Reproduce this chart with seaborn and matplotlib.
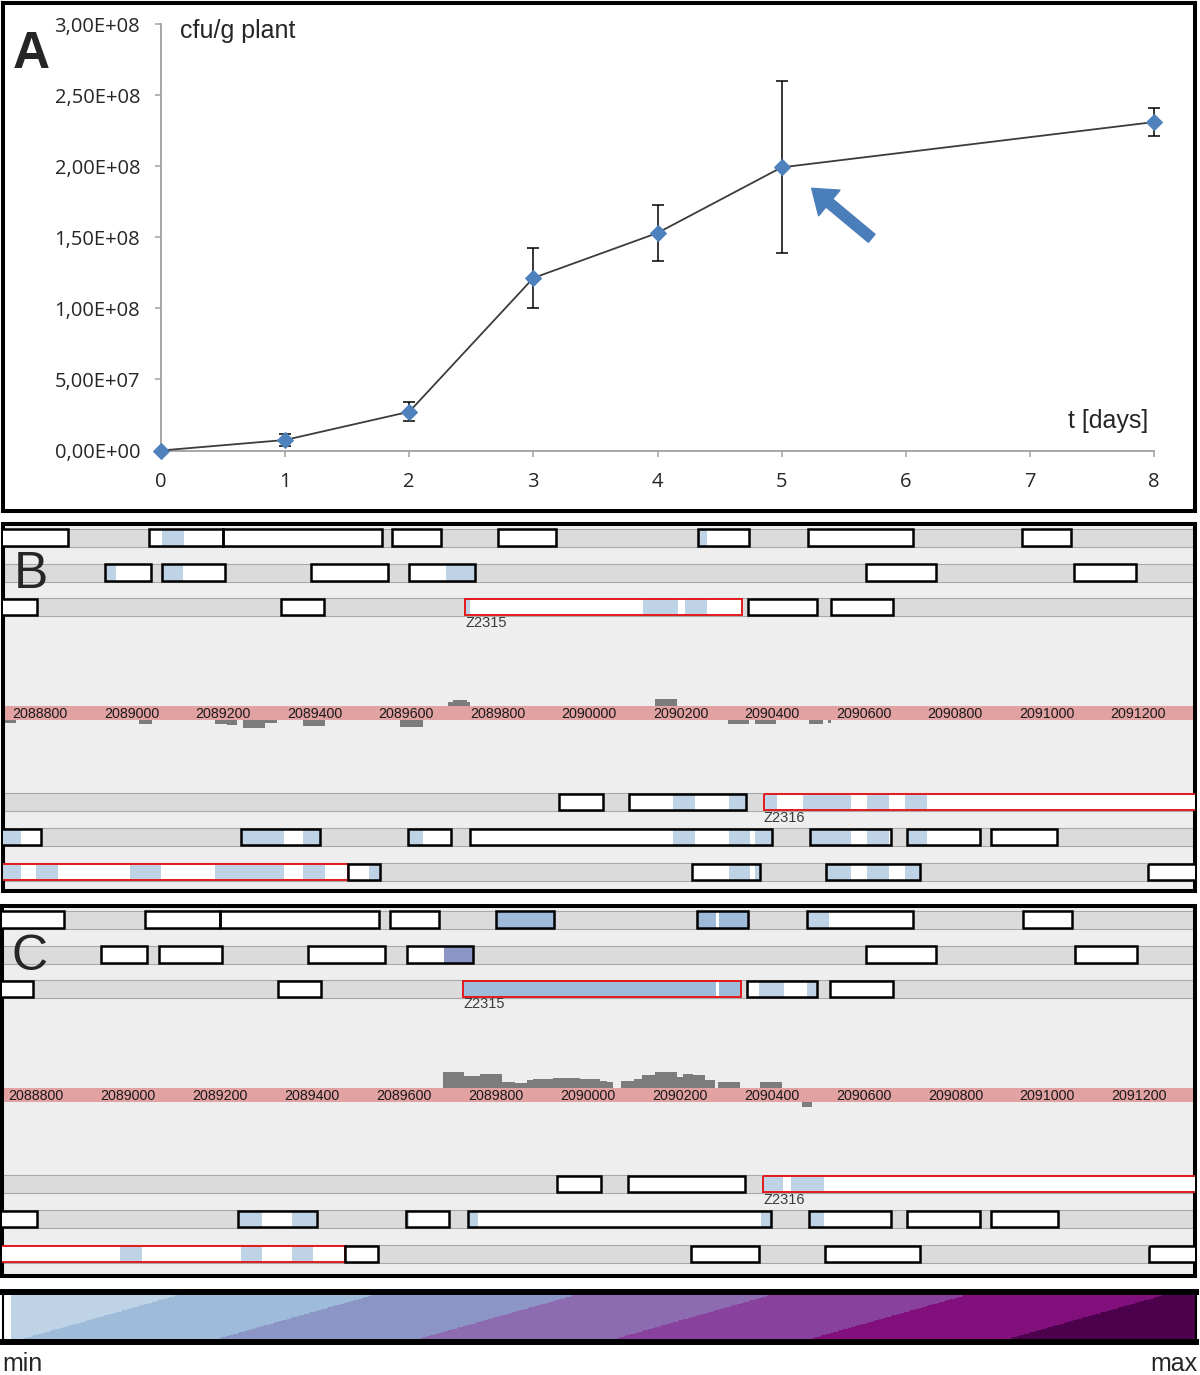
import numpy as np
import matplotlib
matplotlib.use("Agg")
import matplotlib.pyplot as plt
import seaborn as sns
from matplotlib.colors import ListedColormap, BoundaryNorm

# ---------------- Panel A data ----------------
days = [0, 1, 2, 3, 4, 5, 8]
cfu_per_g = [0.0, 7.4e6, 2.73e7, 1.215e8, 1.532e8, 1.994e8, 2.313e8]
cfu_sd = [0.0, 4.5e6, 6.8e6, 2.08e7, 1.97e7, 6.05e7, 1.0e7]
day_ticks = [0, 1, 2, 3, 4, 5, 6, 7, 8]
cfu_ticks = [0, 5e7, 1e8, 1.5e8, 2e8, 2.5e8, 3e8]

# ---------------- Genome panels data ----------------
coord_ticks = list(range(2088800, 2091201, 200))

gene_row = [0] * 8 + [1] * 6 + [2] * 5 + [3] * 3 + [4] * 7 + [5] * 5
gene_start = [2088700, 2089038, 2089200, 2089569, 2089801, 2090238, 2090478, 2090946,
              2088942, 2089067, 2089392, 2089606, 2090605, 2091059,
              2088700, 2089327, 2089729, 2090347, 2090528,
              2089934, 2090087, 2090382,
              2088700, 2089239, 2089604, 2089740, 2090482, 2090694, 2090878,
              2088700, 2089473, 2090225, 2090517, 2091221]
gene_end = [2088861, 2089200, 2089547, 2089676, 2089927, 2090349, 2090707, 2091053,
            2089042, 2089204, 2089560, 2089750, 2090758, 2091195,
            2088793, 2089421, 2090334, 2090498, 2090664,
            2090030, 2090343, 2091400,
            2088802, 2089412, 2089698, 2090399, 2090659, 2090854, 2091022,
            2089473, 2089543, 2090373, 2090723, 2091400]
gene_focus = [False] * 34
for _i in (16, 21, 29):
    gene_focus[_i] = True
gene_label = [""] * 34
gene_label[16] = "Z2315"
gene_label[21] = "Z2316"

# expression (mapped reads) per gene region, panel B
exprB_row = [0, 0, 1, 1, 1, 2, 2, 2, 3, 3, 3, 3, 3, 3,
             4, 4, 4, 4, 4, 4, 4, 4, 4, 4,
             5, 5, 5, 5, 5, 5, 5, 5, 5, 5, 5]
exprB_start = [2089067, 2090238, 2088944, 2089067, 2089687, 2089729, 2090118, 2090209,
               2090183, 2090305, 2090384, 2090467, 2090607, 2090690,
               2088719, 2089239, 2089375, 2089604, 2090183, 2090305, 2090362, 2090482, 2090607, 2090697,
               2088719, 2088791, 2088997, 2089182, 2089375, 2089519, 2090305, 2090362, 2090517, 2090607, 2090690]
exprB_end = [2089115, 2090257, 2088966, 2089112, 2089750, 2089740, 2090194, 2090257,
             2090231, 2090343, 2090410, 2090572, 2090655, 2090738,
             2088758, 2089333, 2089412, 2089637, 2090231, 2090351, 2090399, 2090572, 2090655, 2090738,
             2088758, 2088839, 2089064, 2089333, 2089423, 2089543, 2090351, 2090373, 2090572, 2090655, 2090723]
exprB_level = [1] * 35

# panel C
exprC_row = [0, 0, 0, 0, 1, 2, 2, 2, 2, 3, 3, 4, 4, 4, 4, 4, 4, 5, 5, 5]
exprC_start = [2089801, 2090238, 2090285, 2090480, 2089688, 2089729, 2090286, 2090373, 2090477,
               2090382, 2090442, 2089240, 2089357, 2089603, 2089742, 2090377, 2090482,
               2088983, 2089246, 2089357]
exprC_end = [2089927, 2090280, 2090349, 2090525, 2089753, 2090279, 2090334, 2090427, 2090498,
             2090425, 2090514, 2089292, 2089409, 2089612, 2089762, 2090399, 2090514,
             2089031, 2089292, 2089403]
exprC_level = [2, 2, 2, 1, 3, 2, 2, 1, 1, 1, 1, 1, 1, 1, 1, 1, 1, 1, 1, 1]

# strand-specific coverage (positive = above the axis, negative = below)
covB_start = [2089691, 2089702, 2089733, 2090144,
              2088713, 2089016, 2089182, 2089209, 2089244, 2089292, 2089375, 2089587,
              2090303, 2090362, 2090480, 2090522]
covB_end = [2089702, 2089733, 2089740, 2090192,
            2088748, 2089045, 2089209, 2089230, 2089292, 2089318, 2089423, 2089637,
            2090349, 2090408, 2090511, 2090528]
covB_val = [4, 6, 4, 7, -2.7, -3.3, -3.3, -5, -7.3, -2.7, -5.7, -6.7, -3.3, -3.3, -3.3, -3]

covC_start = [2089685, 2089730, 2089766, 2089814, 2089842, 2089868, 2089881, 2089925, 2089984,
              2090027, 2090043, 2090073, 2090101, 2090118, 2090147, 2090194, 2090207, 2090229,
              2090255, 2090284, 2090375, 2090466]
covC_end = [2089730, 2089766, 2089814, 2089842, 2089868, 2089881, 2089925, 2089984, 2090027,
            2090043, 2090055, 2090101, 2090118, 2090147, 2090194, 2090207, 2090229, 2090255,
            2090277, 2090332, 2090423, 2090488]
covC_val = [16, 11.7, 13.3, 5.7, 4.3, 7.7, 9, 10, 9, 6.7, 5.7, 6.7, 9, 12.3, 15.7, 11, 13.3,
            12.3, 7.7, 5.7, 5.7, -5]

scale_colors = ["#bfd3e6", "#9ebcda", "#8c96c6", "#8c6bb1", "#88419d", "#810f7c", "#4d004b"]
scale_bounds = [-400, 15, 210, 412, 608, 804, 1002, 1500]

# ---------------- style ----------------
sns.set_theme(style="white")
plt.rcParams["font.family"] = ["Liberation Sans", "DejaVu Sans"]

W, H = 1200, 1375
fig = plt.figure(figsize=(W / 100, H / 100), dpi=100)
fig.patch.set_facecolor("white")


def ax_px(l, t, r, b, **kw):
    return fig.add_axes([l / W, 1 - b / H, (r - l) / W, (b - t) / H], **kw)


def ftext(x, y, s, **kw):
    fig.text(x / W, 1 - y / H, s, **kw)


def frame(ax, lw=2.9):
    ax.set_xticks([])
    ax.set_yticks([])
    for sp in ax.spines.values():
        sp.set_visible(True)
        sp.set_color("black")
        sp.set_linewidth(lw)


# ---------------- Panel A ----------------
frA = ax_px(3, 2.5, 1195, 511)
frA.set_facecolor("white")
frame(frA)

axA = ax_px(161, 24.5, 1154, 450.5)
axA.set_facecolor("none")
mask = np.array(cfu_sd) > 0
axA.errorbar(np.array(days)[mask], np.array(cfu_per_g)[mask], yerr=np.array(cfu_sd)[mask],
             fmt="none", ecolor="black", elinewidth=1.1, capsize=4.3, capthick=1.1, zorder=2,
             clip_on=False)
sns.lineplot(x=days, y=cfu_per_g, ax=axA, color="#3c3c3c", lw=1.3, marker="D", markersize=8.5,
             markerfacecolor="#4F81BD", markeredgecolor="#4F81BD", errorbar=None, zorder=3,
             clip_on=False)
axA.set_xlim(0, 8)
axA.set_ylim(0, 3e8)
axA.set_xticks(day_ticks)
axA.set_xticklabels([str(d) for d in day_ticks])
axA.set_yticks(cfu_ticks)
axA.set_yticklabels([("%.2E" % v).replace(".", ",") for v in cfu_ticks])
for s in ("top", "right"):
    axA.spines[s].set_visible(False)
for s in ("left", "bottom"):
    axA.spines[s].set_color("#A0A0A0")
    axA.spines[s].set_linewidth(1.3)
axA.tick_params(axis="y", direction="out", length=4.3, width=1.1, color="#A0A0A0", pad=10.8,
                labelsize=14.5, labelcolor="#262626", left=True)
axA.tick_params(axis="x", direction="out", length=4.3, width=1.1, color="#A0A0A0", pad=11,
                labelsize=14.5, labelcolor="#262626", bottom=True)
for lab in axA.get_xticklabels() + axA.get_yticklabels():
    lab.set_fontfamily(["Open Sans", "DejaVu Sans"])
axA.set_xlabel("")
axA.set_ylabel("")

axA.annotate("", xy=(811.7, H - 188.3), xycoords="figure pixels",
             xytext=(871.7, H - 238.3), textcoords="figure pixels",
             arrowprops=dict(arrowstyle="simple,head_length=1.1,head_width=1.6,tail_width=0.5",
                             color="#4A7EBB", mutation_scale=15, shrinkA=0, shrinkB=0))

ftext(13, 68, "A", fontsize=37, fontweight="bold", va="baseline", ha="left")
ftext(180, 38, "cfu/g plant", fontsize=18, va="baseline", ha="left")
ftext(1068, 428, "t [days]", fontsize=18, va="baseline", ha="left")

# ---------------- Panels B & C ----------------
row_y = [13.5, 48.5, 83, 278, 313, 348]
axis_y = 189
band_h = 14.5


def genome_panel(ax, xlim, ybottom, er, es, ee, el, cs, ce, cv):
    ax.set_facecolor("#EEEEEE")
    ax.set_xlim(*xlim)
    ax.set_ylim(ybottom, 0)
    frame(ax)
    for y in row_y:
        ax.axhspan(y - 9, y + 9, color="#DBDBDB", lw=0, zorder=1)
        ax.axhline(y - 9, color="#A8A8A8", lw=0.8, zorder=1.1)
        ax.axhline(y + 9, color="#A8A8A8", lw=0.8, zorder=1.1)
    ax.axhspan(axis_y - band_h / 2, axis_y + band_h / 2, color="#E3A2A2", lw=0, zorder=1)
    cs, ce, cv = np.array(cs), np.array(ce), np.array(cv, dtype=float)
    bottoms = np.where(cv > 0, axis_y - band_h / 2, axis_y + band_h / 2)
    ax.bar(cs, -cv, width=ce - cs, bottom=bottoms, align="edge", color="#7c7c7c", lw=0, zorder=2)
    for v in coord_ticks:
        ax.text(v, axis_y + 0.5, str(v), ha="center", va="center", fontsize=10.3,
                color="#1a1a1a", zorder=6)
    gs, ge = np.array(gene_start), np.array(gene_end)
    gy = np.array([row_y[r] for r in gene_row])
    ax.bar(gs, 16.5, width=ge - gs, bottom=gy - 8.25, align="edge", color="white", lw=0, zorder=3)
    es, ee = np.array(es), np.array(ee)
    ey = np.array([row_y[r] for r in er])
    ax.bar(es, 16.5, width=ee - es, bottom=ey - 8.25, align="edge",
           color=[scale_colors[l - 1] for l in el], lw=0, zorder=4)
    ecol = ["#E31A1C" if f else "black" for f in gene_focus]
    elw = [1.4 if f else 1.8 for f in gene_focus]
    ax.bar(gs, 16.5, width=ge - gs, bottom=gy - 8.25, align="edge", facecolor="none",
           edgecolor=ecol, linewidth=elw, zorder=5)
    for s, y, lab in zip(gene_start, gy, gene_label):
        if lab:
            ax.text(s, y + 15.5, lab, ha="left", va="center", fontsize=10.5, color="#3a3a3a", zorder=6)


axB = ax_px(2.5, 524, 1195, 891)
genome_panel(axB, (2088718, 2091324), 367, exprB_row, exprB_start, exprB_end, exprB_level,
             covB_start, covB_end, covB_val)
axC = ax_px(1.5, 906, 1195, 1275.5)
genome_panel(axC, (2088725, 2091321), 369.5, exprC_row, exprC_start, exprC_end, exprC_level,
             covC_start, covC_end, covC_val)

ftext(14, 588, "B", fontsize=37, va="baseline", ha="left")
ftext(12, 970, "C", fontsize=36, va="baseline", ha="left")

# ---------------- colour scale ----------------
axS = ax_px(3, 1291.5, 1196, 1341.5)
axS.set_facecolor("white")
Xg, Yg = np.meshgrid(np.linspace(11, 1196, 800), np.linspace(0, 1, 80))
V = Xg - 176 * Yg
axS.imshow(V, origin="lower", extent=(11, 1196, 0, 1), aspect="auto", interpolation="nearest",
           cmap=ListedColormap(scale_colors), norm=BoundaryNorm(scale_bounds, len(scale_colors)))
axS.set_xlim(3, 1196)
axS.set_ylim(0, 1)
frame(axS)
axS.spines["top"].set_linewidth(4.3)
axS.spines["bottom"].set_linewidth(4.3)
axS.spines["left"].set_linewidth(1.5)
axS.spines["right"].set_linewidth(1.5)

ftext(2, 1371, "min", fontsize=18, va="baseline", ha="left")
ftext(1197, 1371, "max", fontsize=18, va="baseline", ha="right")

fig.savefig("out.png", dpi=100, facecolor="white")
